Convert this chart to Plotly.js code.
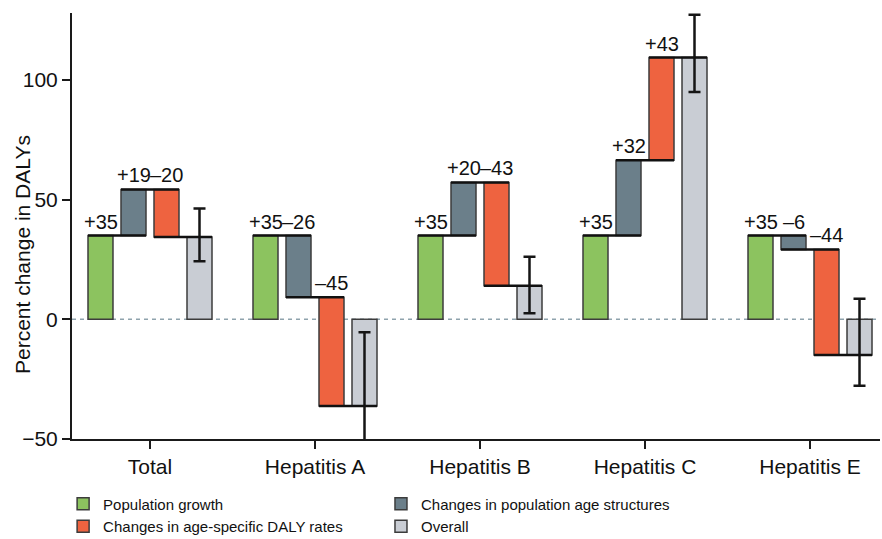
<!DOCTYPE html>
<html>
<head>
<meta charset="utf-8">
<script src="https://cdn.plot.ly/plotly-3.0.1.min.js"></script>
<style>html,body{margin:0;padding:0;background:#fff;}#chart{width:882px;height:539px;}</style>
</head>
<body>
<div id="chart"></div>
<script>
// ---- data ----
const categories = ["Total", "Hepatitis A", "Hepatitis B", "Hepatitis C", "Hepatitis E"];
const popGrowth  = [35, 35, 35, 35, 35];              // level after population growth
const afterAge   = [54.3, 9.2, 57.2, 66.5, 29.2];      // level after age-structure change
const overall    = [34.4, -36.2, 14.0, 109.4, -14.9];  // overall change
const errHigh    = [46.3, -5.4, 26.1, 127.3, 8.6];
const errLow     = [24.3, -51.8, 2.5, 95.0, -27.7];
const popLabels  = ["+35", "+35", "+35", "+35", "+35"];
const ageLabels  = ["+19", "–26", "+20", "+32", "–6"];
const rateLabels = ["–20", "–45", "–43", "+43", "–44"];
const seriesNames = ["Population growth", "Changes in population age structures",
                     "Changes in age-specific DALY rates", "Overall"];

// ---- styling ----
const colors = ["#8cc35f", "#6b7f8a", "#ee6340", "#c9cdd4"];
const offsets = [-0.3, -0.1, 0.1, 0.3];
const bw = 0.1515;
const FONT = "Liberation Sans, Arial, Helvetica, sans-serif";
const idx = categories.map((_, i) => i);

const outline = {color: "#3c3c3c", width: 1.5};

const traces = [];
// Population growth
traces.push({type: "bar", name: seriesNames[0], legend: "legend",
  x: idx.map(i => i + offsets[0]), base: idx.map(() => 0), y: popGrowth,
  width: bw, marker: {color: colors[0], line: outline}, hoverinfo: "skip"});
// Age structure
traces.push({type: "bar", name: seriesNames[1], legend: "legend2",
  x: idx.map(i => i + offsets[1]), base: popGrowth, y: idx.map(i => afterAge[i] - popGrowth[i]),
  width: bw, marker: {color: colors[1], line: outline}, hoverinfo: "skip"});
// Age-specific rates
traces.push({type: "bar", name: seriesNames[2], legend: "legend",
  x: idx.map(i => i + offsets[2]), base: afterAge, y: idx.map(i => overall[i] - afterAge[i]),
  width: bw, marker: {color: colors[2], line: outline}, hoverinfo: "skip"});
// Overall
traces.push({type: "bar", name: seriesNames[3], legend: "legend2",
  x: idx.map(i => i + offsets[3]), base: idx.map(() => 0), y: overall,
  width: bw, marker: {color: colors[3], line: outline}, hoverinfo: "skip",
  error_y: {type: "data", symmetric: false,
    array: idx.map(i => errHigh[i] - overall[i]),
    arrayminus: idx.map(i => overall[i] - errLow[i]),
    color: "#151515", thickness: 2.5, width: 6}});

// connector lines
const levels = [popGrowth, afterAge, overall];
const cx = [], cy = [];
idx.forEach(i => {
  for (let k = 0; k < 3; k++) {
    cx.push(i + offsets[k] - bw / 2, i + offsets[k + 1] + bw / 2, null);
    cy.push(levels[k][i], levels[k][i], null);
  }
});
traces.push({type: "scatter", mode: "lines", x: cx, y: cy, showlegend: false,
  line: {color: "#111", width: 2.5}, hoverinfo: "skip", cliponaxis: false});

// value labels
const annotations = [];
idx.forEach(i => {
  const lab = [
    {t: popLabels[i], x: i + offsets[0], y: popGrowth[i]},
    {t: ageLabels[i], x: i + offsets[1], y: Math.max(popGrowth[i], afterAge[i])},
    {t: rateLabels[i], x: i + offsets[2], y: Math.max(afterAge[i], overall[i])}
  ];
  lab.forEach(l => annotations.push({text: l.t, x: l.x, y: l.y, xref: "x", yref: "y",
    xanchor: "center", yanchor: "bottom", showarrow: false, yshift: 1,
    font: {family: FONT, size: 20, color: "#111"}}));
});
annotations.push({text: "Percent change in DALYs", textangle: -90, xref: "paper", yref: "paper",
  x: -0.062, y: 0.434, xanchor: "center", yanchor: "middle", showarrow: false,
  font: {family: FONT, size: 21, color: "#111"}});

const legendCommon = {orientation: "v", yanchor: "top", xanchor: "left",
  bgcolor: "rgba(0,0,0,0)", borderwidth: 0, font: {family: FONT, size: 15, color: "#111"},
  traceorder: "normal"};

const layout = {
  width: 882, height: 539,
  margin: {l: 72, r: 2, t: 13, b: 100, autoexpand: false},
  paper_bgcolor: "#fff", plot_bgcolor: "#fff",
  barmode: "overlay",
  showlegend: true,
  font: {family: FONT, color: "#111"},
  xaxis: {range: [-0.4727, 4.4242], tickvals: idx, ticktext: categories,
    showgrid: false, zeroline: false, showline: true, linecolor: "#1a1a1a", linewidth: 2,
    ticks: "outside", ticklen: 8, tickwidth: 2, tickcolor: "#1a1a1a", automargin: false,
    tickfont: {family: FONT, size: 21, color: "#111"}},
  yaxis: {range: [-50, 128], tickvals: [-50, 0, 50, 100],
    showgrid: false, zeroline: false, showline: true, linecolor: "#1a1a1a", linewidth: 2,
    ticks: "outside", ticklen: 8, tickwidth: 2, tickcolor: "#1a1a1a", automargin: false,
    tickfont: {family: FONT, size: 21, color: "#111"}},
  shapes: [{type: "line", xref: "paper", yref: "y", x0: 0, x1: 1, y0: 0, y1: 0,
    layer: "below", line: {color: "#8fa3ad", width: 1.5, dash: "4px,4px"}}],
  annotations: annotations,
  legend: Object.assign({x: -0.011, y: -0.114}, legendCommon),
  legend2: Object.assign({x: 0.3824, y: -0.114}, legendCommon)
};

Plotly.newPlot("chart", traces, layout, {displayModeBar: false, staticPlot: true});
</script>
</body>
</html>
